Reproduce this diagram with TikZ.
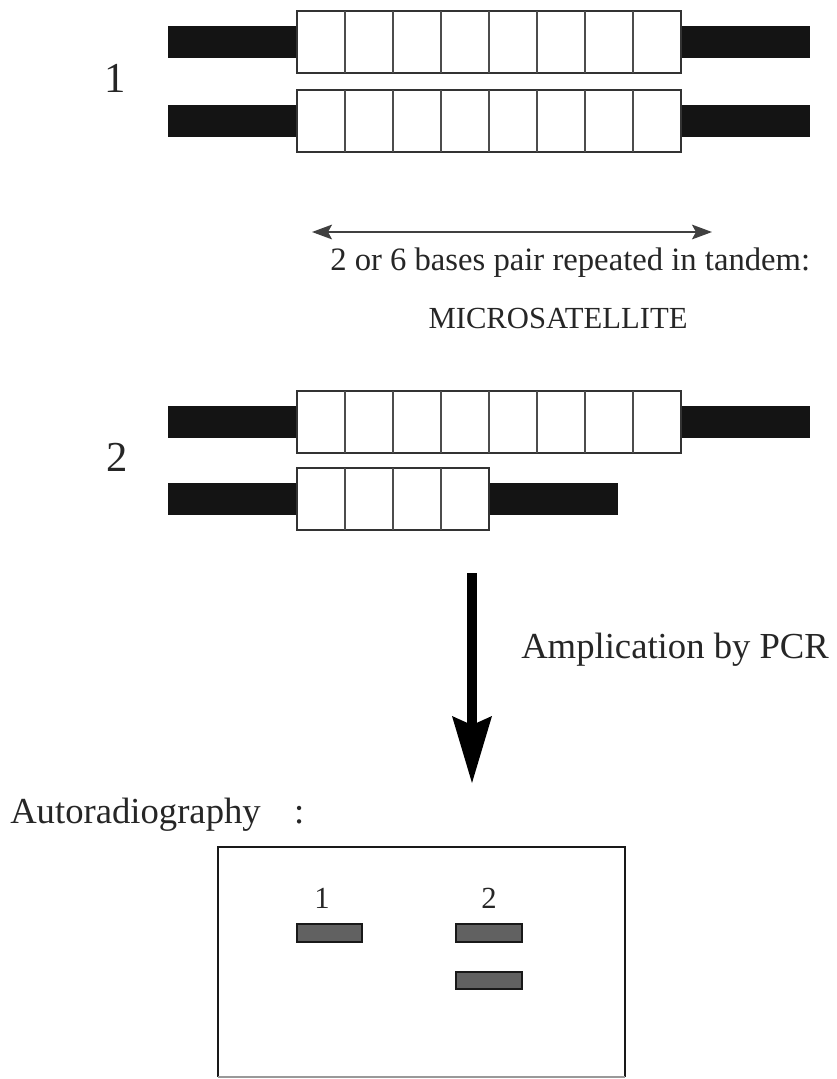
\documentclass[tikz,border=0pt]{standalone}
\usepackage{fontspec}
\setmainfont{Liberation Serif}
\usetikzlibrary{arrows.meta}
\begin{document}
\begin{tikzpicture}[x=0.75pt,y=-0.75pt,
  flank/.style={fill=black!92},
  repeatbox/.style={draw=black!80,line width=2pt,fill=white},
  divider/.style={draw=black!70,line width=2pt},
  rowlabel/.style={inner sep=0pt,font=\fontsize{32}{32}\selectfont,text=black!85},
  caption/.style={inner sep=0pt,font=\fontsize{27.5}{30}\selectfont,text=black!85},
  smallcap/.style={inner sep=0pt,font=\fontsize{24.5}{27}\selectfont,text=black!85},
  gellabel/.style={inner sep=0pt,font=\fontsize{23}{23}\selectfont,text=black!85},
  band/.style={fill=black!62,draw=black!90,line width=1.2pt},
  gel/.style={draw=black!90,line width=2pt}]
\useasboundingbox (0,0) rectangle (837,1079);

% DNA strands: flanking sequences with a run of tandem repeats
\foreach \cy/\n in {42/8,121/8,422/8,499/4} {
  \pgfmathsetmacro\xe{297+48*\n}
  \pgfmathtruncatemacro\m{\n-1}
  \fill[flank] (168,\cy-16) rectangle (297,\cy+16);
  \fill[flank] (\xe,\cy-16) rectangle (\xe+129,\cy+16);
  \draw[repeatbox] (297,\cy-31) rectangle (\xe,\cy+31);
  \foreach \k in {1,...,\m}
    \draw[divider] (297+48*\k,\cy-31) -- (297+48*\k,\cy+31);
}

\node[rowlabel] (lblone) at (115,78) {1};
\node[rowlabel] (lbltwo) at (117,457) {2};

% span of the repeat region
\coordinate (spanL) at (312,232);
\coordinate (spanR) at (712,232);
\draw[black!75,line width=1.5pt,{Stealth[length=15pt,width=11pt,inset=3pt]}-{Stealth[length=15pt,width=11pt,inset=3pt]}] (spanL) -- (spanR);

\node[smallcap,anchor=base west] (tandem) at (330,270) {2 or 6 bases pair repeated in tandem:};
\node[smallcap,anchor=base,font=\fontsize{23}{25}\selectfont] (micro) at (558,328) {MICROSATELLITE};

% PCR step
\coordinate (pcrtop) at (472,573);
\coordinate (pcrtip) at (472,783);
\draw[black,line width=7.5pt] (pcrtop) -- (472,725);
\fill[black] (pcrtip) -- (452,716) -- (472,725) -- (492,716) -- cycle;
\node[caption,anchor=base west] (pcr) at (521,658) {Amplication by PCR};

\node[caption,anchor=base west] (autorad) at (10,823) {Autoradiography\hspace{25pt}:};

% gel
\draw[gel] (218,1077) -- (218,847) -- (625,847) -- (625,1077);
\draw[gel,draw=black!40] (218,1077) -- (625,1077);
\node[gellabel] (gelone) at (322,898) {1};
\node[gellabel] (geltwo) at (489,898) {2};
\draw[band] (297,924) rectangle (362,942);
\draw[band] (456,924) rectangle (522,942);
\draw[band] (456,972) rectangle (522,989);
\end{tikzpicture}
\end{document}
